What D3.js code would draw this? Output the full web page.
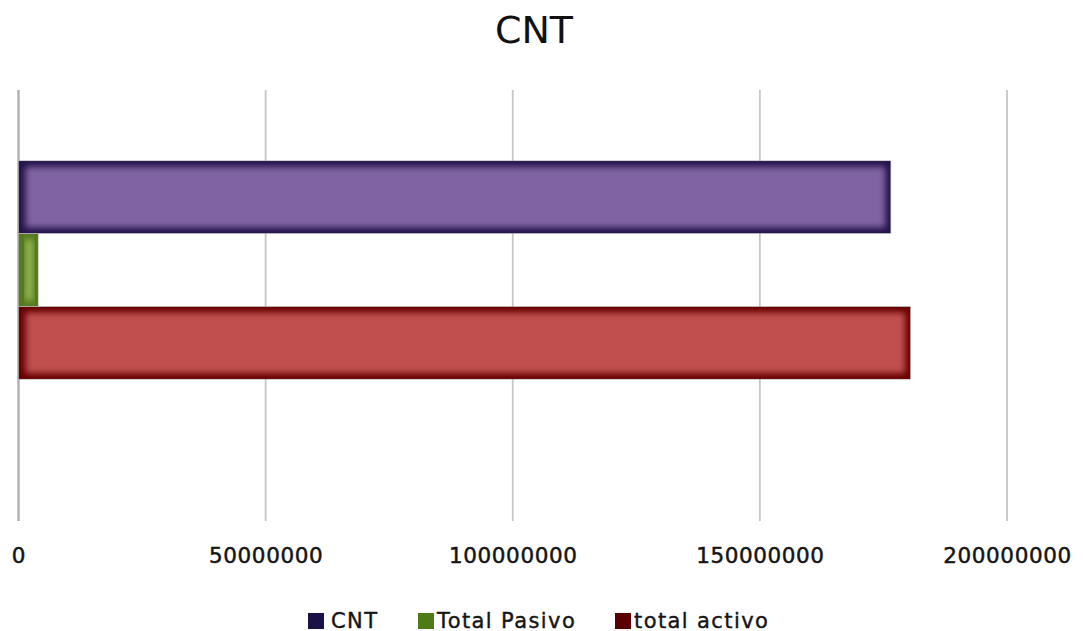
<!DOCTYPE html>
<html>
<head>
<meta charset="utf-8">
<script src="https://cdn.jsdelivr.net/npm/d3@7"></script>
<style>
  html, body { margin: 0; padding: 0; background: #fff; }
  svg { display: block; font-family: "DejaVu Sans", sans-serif; }
</style>
</head>
<body>
<svg id="chart" width="1083" height="631"></svg>
<script>
// Series shown as horizontal bars (one category, three series)
const seriesNames = ["CNT", "Total Pasivo", "total activo"];
const seriesValues = [176500000, 4000000, 180500000];
const tickValues = [0, 50000000, 100000000, 150000000, 200000000];
const chartTitle = "CNT";

// Fill colours: bar centre, darker bar edge, legend swatch
const fillColors = ["#8064a2", "#9bbb59", "#c0504d"];
const edgeColors = ["#23124a", "#557a1e", "#650000"];
const swatchColors = ["#1c1144", "#4e7a18", "#5a0000"];

const svg = d3.select("#chart");
const plot = { left: 18.5, right: 1007, top: 90, bottom: 521 };

const x = d3.scaleLinear().domain([0, 200000000]).range([plot.left, plot.right]);
const y = d3.scaleBand().domain(seriesNames).range([160.7, 379.3]).padding(0);

const data = seriesNames.map((name, i) => ({
  name, value: seriesValues[i], fill: fillColors[i], edge: edgeColors[i], swatch: swatchColors[i], i
}));

// Title
svg.append("text")
  .attr("x", 534).attr("y", 43)
  .attr("text-anchor", "middle")
  .attr("font-size", 38)
  .attr("fill", "#111")
  .text(chartTitle);

// Vertical gridlines
svg.append("g").selectAll("line")
  .data(tickValues)
  .join("line")
  .attr("x1", d => x(d)).attr("x2", d => x(d))
  .attr("y1", plot.top).attr("y2", plot.bottom)
  .attr("stroke", (d, i) => i === 0 ? "#b4b4b4" : "#c6c6c6")
  .attr("stroke-width", (d, i) => i === 0 ? 2.6 : 1.8);

// Tick labels
const axis = d3.axisBottom(x)
  .tickValues(tickValues)
  .tickFormat(d3.format("d"))
  .tickSize(0)
  .tickPadding(0);
const axisG = svg.append("g")
  .attr("transform", `translate(0, 563)`)
  .call(axis);
axisG.select(".domain").remove();
axisG.selectAll("text")
  .attr("dy", 0)
  .attr("y", 0)
  .attr("font-family", "DejaVu Sans, sans-serif")
  .attr("font-size", 21.5)
  .attr("letter-spacing", 0.6)
  .attr("fill", "#151515")
  .attr("stroke", "#151515")
  .attr("stroke-width", 0.5);

// Bars with a soft inner shadow on the edges
const defs = svg.append("defs");
defs.append("filter")
  .attr("id", "soften")
  .attr("x", "-20%").attr("y", "-20%").attr("width", "140%").attr("height", "140%")
  .append("feGaussianBlur").attr("stdDeviation", 3.2);

data.forEach(d => {
  const x0 = x(0), x1 = x(d.value);
  const y0 = y(d.name), h = y.bandwidth();
  defs.append("clipPath").attr("id", `clip-${d.i}`)
    .append("rect").attr("x", x0).attr("y", y0).attr("width", x1 - x0).attr("height", h);
});

const bars = svg.append("g").selectAll("g.bar")
  .data(data)
  .join("g")
  .attr("class", "bar")
  .attr("clip-path", d => `url(#clip-${d.i})`);

bars.append("rect")
  .attr("x", x(0))
  .attr("y", d => y(d.name))
  .attr("width", d => x(d.value) - x(0))
  .attr("height", y.bandwidth())
  .attr("fill", d => d.edge);

bars.append("rect")
  .attr("x", x(0) + 7)
  .attr("y", d => y(d.name) + 6)
  .attr("width", d => Math.max(0, x(d.value) - x(0) - 12.5))
  .attr("height", y.bandwidth() - 12)
  .attr("fill", d => d.fill)
  .attr("filter", "url(#soften)");

svg.append("g").selectAll("rect")
  .data(data)
  .join("rect")
  .attr("x", x(0))
  .attr("y", d => y(d.name))
  .attr("width", d => x(d.value) - x(0))
  .attr("height", y.bandwidth())
  .attr("fill", "none")
  .attr("stroke", "#a8a8a8")
  .attr("stroke-opacity", 0.6)
  .attr("stroke-width", 0.8);

// Legend
const legendX = [308, 418, 615];
const legend = svg.append("g").selectAll("g")
  .data(data)
  .join("g")
  .attr("transform", (d, i) => `translate(${legendX[i]}, 613)`);
legend.append("rect")
  .attr("width", 16).attr("height", 16)
  .attr("fill", d => d.swatch);
legend.append("text")
  .attr("x", d => d.i === 0 ? 23 : 19)
  .attr("y", 14.5)
  .attr("font-size", 21)
  .attr("letter-spacing", 1.4)
  .attr("fill", "#151515")
  .attr("stroke", "#151515")
  .attr("stroke-width", 0.4)
  .text(d => d.name);
</script>
</body>
</html>
